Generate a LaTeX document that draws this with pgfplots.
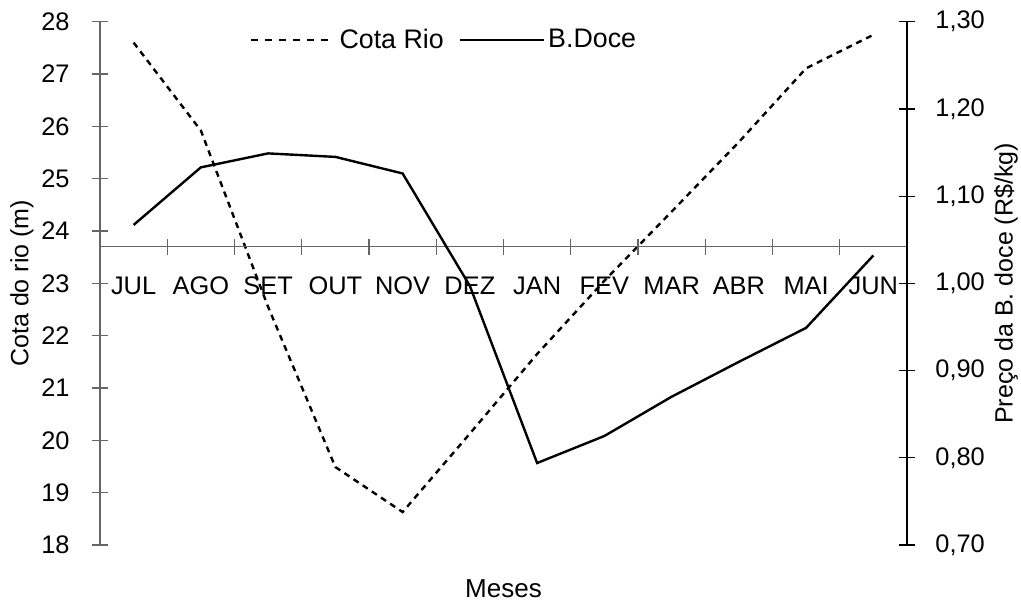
\documentclass[border=0pt]{standalone}
\usepackage{fontspec}
\setmainfont{Liberation Sans}
\usepackage{pgfplots}
\usepackage{pgfplotstable}
\pgfplotsset{compat=1.18}

% dados
\pgfplotstableread{
x cota doce
0 27.60 1.067
1 25.92 1.133
2 22.55 1.149
3 19.49 1.145
4 18.63 1.126
5 20.13 0.997
6 21.65 0.794
7 23.05 0.825
8 24.37 0.870
9 25.70 0.910
10 27.11 0.949
11 27.75 1.032
}\dados

\pgfplotsset{
  base/.style={
    scale only axis, width=403.5pt, height=261.65pt,
    xmin=-0.5, xmax=11.5, clip=false,
    axis x line=none,
    tick align=center, major tick length=8pt,
    tick label style={font=\fontsize{12.7}{14}\selectfont},
    /pgf/number format/assume math mode=true,
  },
}
\tikzset{mes/.style={anchor=base, font=\fontsize{12.7}{14}\selectfont, yshift=-23.8pt}}

\begin{document}
\begin{tikzpicture}
\begin{axis}[base,
  axis y line*=left, ymin=18, ymax=28, ytick={18,...,28},
  y axis line style={black!60, line width=0.6pt},
  ytick style={black!60, line width=0.6pt},
  yticklabel style={anchor=east, inner sep=0pt, xshift=-11pt},
]
\addplot[black, line width=1.2pt, dash pattern=on 3pt off 2.5pt] table[x=x,y=cota] {\dados};
% eixo dos meses
\draw[black!60, line width=0.6pt] (axis cs:-0.5,23.7) -- (axis cs:11.5,23.7);
\pgfplotsinvokeforeach{0.5,1.5,...,10.5}{
  \draw[black!60, line width=0.6pt] ([yshift=-4pt]axis cs:#1,23.7) -- ([yshift=4pt]axis cs:#1,23.7);
}
\node[mes] at (axis cs:0,23.7) {JUL};
\node[mes] at (axis cs:1,23.7) {AGO};
\node[mes] at (axis cs:2,23.7) {SET};
\node[mes] at (axis cs:3,23.7) {OUT};
\node[mes] at (axis cs:4,23.7) {NOV};
\node[mes] at (axis cs:5,23.7) {DEZ};
\node[mes] at (axis cs:6,23.7) {JAN};
\node[mes] at (axis cs:7,23.7) {FEV};
\node[mes] at (axis cs:8,23.7) {MAR};
\node[mes] at (axis cs:9,23.7) {ABR};
\node[mes] at (axis cs:10,23.7) {MAI};
\node[mes] at (axis cs:11,23.7) {JUN};
\node[rotate=90, font=\fontsize{12.5}{14}\selectfont] at ([xshift=-39pt]rel axis cs:0,0.5) {Cota do rio (m)};
\node[anchor=base, font=\fontsize{13}{15}\selectfont] at ([yshift=-26pt]rel axis cs:0.5,0) {Meses};
\coordinate (bl) at ([xshift=-50pt,yshift=-28pt]rel axis cs:0,0);
\coordinate (tr) at ([xshift=57pt,yshift=10.85pt]rel axis cs:1,1);
\end{axis}
\begin{axis}[base,
  axis y line*=right, ymin=0.7, ymax=1.3, ytick={0.7,0.8,...,1.31},
  y axis line style={black, line width=0.6pt},
  ytick style={black, line width=0.6pt},
  yticklabel style={anchor=west, inner sep=0pt, xshift=10pt,
    /pgf/number format/.cd, fixed, fixed zerofill, precision=2, use comma},
  legend style={at={(rel axis cs:0.427,0.965)}, anchor=center, draw=none, fill=none,
    font=\fontsize{13.4}{15}\selectfont, legend columns=2,
    nodes={inner sep=1.5pt},
    /tikz/every even column/.append style={column sep=6pt}},
  legend image code/.code={\draw[#1] (0pt,0pt) -- (42pt,0pt);},
]
\addlegendimage{black, line width=1.2pt, dash pattern=on 3.5pt off 3.5pt}
\addlegendentry{Cota Rio}
\addplot[black, line width=1.2pt] table[x=x,y=doce] {\dados};
\addlegendentry{B.Doce}
\node[rotate=90, font=\fontsize{12.5}{14}\selectfont] at ([xshift=49.5pt]rel axis cs:1,0.5) {Preço da B. doce (R\$/kg)};
\end{axis}
\pgfresetboundingbox
\path[use as bounding box] (bl) rectangle (tr);
\end{tikzpicture}
\end{document}
